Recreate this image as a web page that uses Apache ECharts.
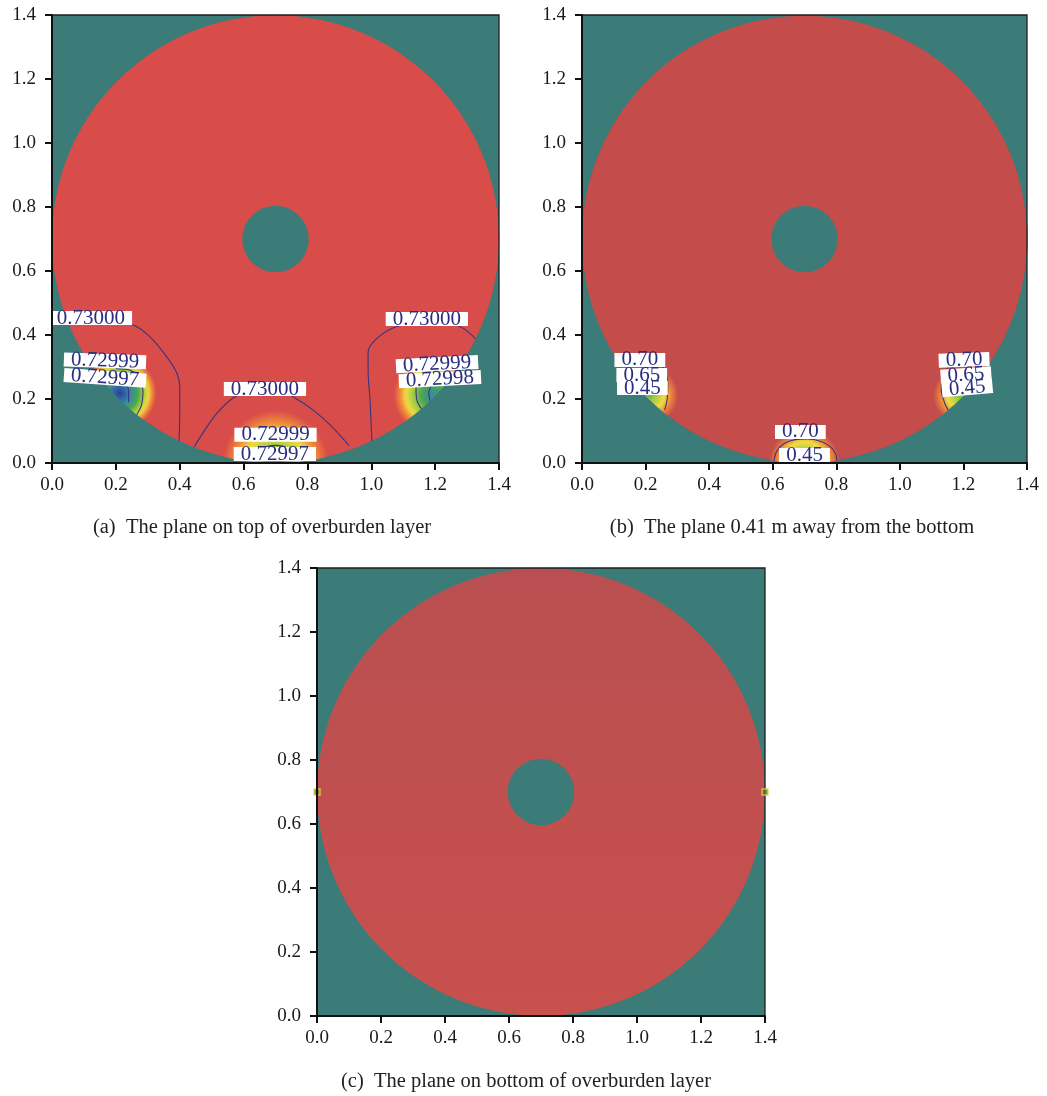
<!DOCTYPE html>
<html>
<head>
<meta charset="utf-8">
<script src="https://cdn.jsdelivr.net/npm/echarts@6/dist/echarts.min.js"></script>
<style>
  html, body { margin: 0; padding: 0; background: #ffffff; }
  #chart { width: 1047px; height: 1096px; }
</style>
</head>
<body>
<div id="chart"></div>
<script>
// ---------------- data ----------------
// Axis ticks shared by the three planes (m)
const tickValues = [0.0, 0.2, 0.4, 0.6, 0.8, 1.0, 1.2, 1.4];

const panelTitles = [
  '(a)  The plane on top of overburden layer',
  '(b)  The plane 0.41 m away from the bottom',
  '(c)  The plane on bottom of overburden layer'
];

// Model domain [cx, cy, r] (m)
const outerDisk = [[0.7, 0.7, 0.7]];
const innerHole = [[0.7, 0.7, 0.104]];

// Disturbed zones round the wells: [cx, cy, radius, depth on the colour ramp 0..1]
const wellZonesA = [[0.212, 0.218, 0.115, 1.0], [1.19, 0.212, 0.12, 0.7], [0.7, 0.0, 0.165, 0.52]];
const wellZonesB = [[0.212, 0.212, 0.09, 0.45], [1.19, 0.21, 0.085, 0.42], [0.7, 0.0, 0.11, 0.55]];
// Wells on the bottom plane [x, y]
const wellsC = [[0.0, 0.7], [1.4, 0.7]];

// Contour lines, plane (a)
const contourA_left = [[0.05, 0.45], [0.16, 0.447], [0.254, 0.431], [0.307, 0.394], [0.36, 0.331], [0.391, 0.281], [0.40, 0.238], [0.40, 0.15], [0.398, 0.068]];
const contourA_mid = [[0.445, 0.05], [0.485, 0.113], [0.517, 0.156], [0.567, 0.203], [0.62, 0.226], [0.70, 0.232], [0.761, 0.203], [0.817, 0.166], [0.871, 0.119], [0.93, 0.055]];
const contourA_right = [[1.33, 0.385], [1.29, 0.42], [1.24, 0.44], [1.17, 0.447], [1.068, 0.422], [1.012, 0.384], [0.99, 0.347], [0.99, 0.29], [0.996, 0.197], [1.002, 0.068]];
const contourA_leftIn1 = [[0.20, 0.295], [0.245, 0.29], [0.275, 0.262], [0.285, 0.22], [0.28, 0.18], [0.265, 0.15]];
const contourA_leftIn2 = [[0.195, 0.265], [0.225, 0.255], [0.24, 0.225], [0.24, 0.19]];
const contourA_midIn = [[0.64, 0.02], [0.66, 0.045], [0.70, 0.055], [0.74, 0.045], [0.76, 0.02]];
const contourA_rightIn1 = [[1.15, 0.27], [1.14, 0.23], [1.145, 0.19], [1.165, 0.16]];
const contourA_rightIn2 = [[1.19, 0.245], [1.18, 0.22], [1.185, 0.19]];

// Contour lines, plane (b)
const contourB_left = [[0.22, 0.33], [0.255, 0.30], [0.27, 0.25], [0.268, 0.2], [0.26, 0.165]];
const contourB_right = [[1.17, 0.32], [1.14, 0.28], [1.13, 0.23], [1.14, 0.19], [1.155, 0.16]];
const contourB_mid = [[0.603, 0.0], [0.612, 0.035], [0.635, 0.06], [0.67, 0.073], [0.71, 0.075], [0.75, 0.068], [0.78, 0.052], [0.797, 0.03], [0.803, 0.0]];

// Contour labels [x, y, level]
const labelsA = [
  [0.122, 0.453, 0.73000], [0.166, 0.319, 0.72999], [0.166, 0.266, 0.72997],
  [0.667, 0.231, 0.73000], [0.700, 0.088, 0.72999], [0.698, 0.028, 0.72997],
  [1.174, 0.450, 0.73000], [1.206, 0.309, 0.72999], [1.215, 0.262, 0.72998]
];
const labelsB = [
  [0.182, 0.322, 0.70], [0.188, 0.275, 0.65], [0.190, 0.234, 0.45],
  [1.202, 0.322, 0.70], [1.208, 0.275, 0.65], [1.212, 0.234, 0.45],
  [0.687, 0.097, 0.70], [0.700, 0.025, 0.45]
];

// ---------------- styles ----------------
const TEAL = '#3b7c79';
const RED_A = '#d84c4a';
const RED_B = '#c44c4b';
const LINE = '#38357e';
const SERIF = '"Liberation Serif", "DejaVu Serif", serif';
const tiltA = [0, -2, -4, 0, 0, 0, 0, 3, 3];
const tiltB = [0, 0, 0, 2, 4, 5, 0, 0];

const grids = [
  { left: 52, top: 15, width: 447, height: 448 },
  { left: 582, top: 15, width: 445, height: 448 },
  { left: 317, top: 568, width: 448, height: 448 }
];

// rainbow ramp: position 0 = undisturbed (panel red), 1 = deepest drawdown (blue)
function rampStops(red) {
  return [[0, red], [0.12, '#f08a3a'], [0.22, '#f0dc40'], [0.35, '#a6cc44'],
          [0.5, '#4aa84e'], [0.7, '#3a88a8'], [1, '#2c3c9c']];
}
function rampColour(v, stops) {
  for (let k = 1; k < stops.length; k++) {
    if (v <= stops[k][0]) {
      const f = (v - stops[k - 1][0]) / (stops[k][0] - stops[k - 1][0]);
      return echarts.color.lerp(Math.max(0, Math.min(1, f)), [stops[k - 1][1], stops[k][1]]);
    }
  }
  return stops[stops.length - 1][1];
}

function diskItem(fill) {
  return function (params, api) {
    const c = api.coord([api.value(0), api.value(1)]);
    const s = api.size([api.value(2), api.value(2)]);
    return { type: 'circle', shape: { cx: c[0], cy: c[1], r: (s[0] + s[1]) / 2 }, style: { fill: fill } };
  };
}

function zoneItem(red) {
  const stopsRamp = rampStops(red);
  return function (params, api) {
    const c = api.coord([api.value(0), api.value(1)]);
    const s = api.size([api.value(2), api.value(2)]);
    const depth = api.value(3);
    const stops = [];
    for (let k = 0; k <= 20; k++) {
      const t = k / 20;
      stops.push({ offset: t, color: rampColour(depth * (1 - t), stopsRamp) });
    }
    return {
      type: 'circle',
      shape: { cx: c[0], cy: c[1], r: (s[0] + s[1]) / 2 },
      style: { fill: new echarts.graphic.RadialGradient(0.5, 0.5, 0.5, stops) }
    };
  };
}

function maskItem(params, api) {
  const cs = params.coordSys;
  const c = api.coord([api.value(0), api.value(1)]);
  const s = api.size([api.value(2), api.value(2)]);
  const rx = s[0], ry = s[1];
  const d = 'M' + cs.x + ' ' + cs.y + 'H' + (cs.x + cs.width) + 'V' + (cs.y + cs.height) + 'H' + cs.x + 'Z' +
    'M' + (c[0] + rx) + ' ' + c[1] + 'A' + rx + ' ' + ry + ' 0 1 0 ' + (c[0] - rx) + ' ' + c[1] +
    'A' + rx + ' ' + ry + ' 0 1 0 ' + (c[0] + rx) + ' ' + c[1] + 'Z';
  return {
    type: 'group',
    children: [
      { type: 'path', shape: { pathData: d }, style: { fill: TEAL } },
      { type: 'rect', shape: { x: cs.x, y: cs.y, width: cs.width, height: cs.height },
        style: { fill: 'none', stroke: '#1e1e1e', lineWidth: 1.3 } }
    ]
  };
}

function labelItem(digits, tilts) {
  return function (params, api) {
    const p = api.coord([api.value(0), api.value(1)]);
    return {
      type: 'text', x: p[0], y: p[1],
      rotation: (tilts[params.dataIndex] || 0) * Math.PI / 180,
      style: {
        text: api.value(2).toFixed(digits), fill: '#2a2d80',
        fontSize: 21, fontFamily: SERIF,
        align: 'center', verticalAlign: 'middle',
        backgroundColor: '#ffffff', padding: [0, 7], lineHeight: 14
      }
    };
  };
}

function custom(i, data, renderItem, z, clip) {
  return { type: 'custom', xAxisIndex: i, yAxisIndex: i, data: data, renderItem: renderItem,
    encode: { x: 0, y: 1 }, z: z, silent: true, clip: !!clip };
}

function contour(i, pts) {
  return { type: 'line', xAxisIndex: i, yAxisIndex: i, data: pts, showSymbol: false, symbol: 'none',
    smooth: 0.3, lineStyle: { color: LINE, width: 1.1 }, z: 3, silent: true };
}

function axis(i) {
  return {
    gridIndex: i, type: 'value', min: 0, max: 1.4, interval: 0.2, z: 10,
    axisLine: { show: true, onZero: false, lineStyle: { color: '#111', width: 2 } },
    axisTick: { show: true, length: 7, customValues: tickValues, lineStyle: { color: '#111', width: 2 } },
    axisLabel: { customValues: tickValues, color: '#1a1a1a', fontSize: 19, fontFamily: SERIF,
      formatter: function (v) { return v.toFixed(1); } },
    splitLine: { show: false }
  };
}

const xAxes = [0, 1, 2].map(function (i) { const a = axis(i); a.axisLabel.margin = 13; return a; });
const yAxes = [0, 1, 2].map(function (i) { const a = axis(i); a.axisLabel.margin = 16; return a; });

const fillC = new echarts.graphic.LinearGradient(0, 0, 0, 1, [
  { offset: 0, color: '#b94f51' }, { offset: 1, color: '#c8504d' }
]);

const series = [
  // plane (a)
  custom(0, outerDisk, diskItem(RED_A), 1),
  custom(0, wellZonesA, zoneItem(RED_A), 2, true),
  contour(0, contourA_left), contour(0, contourA_mid), contour(0, contourA_right),
  contour(0, contourA_leftIn1), contour(0, contourA_leftIn2), contour(0, contourA_midIn),
  contour(0, contourA_rightIn1), contour(0, contourA_rightIn2),
  custom(0, outerDisk, maskItem, 4),
  custom(0, innerHole, diskItem(TEAL), 5),
  custom(0, labelsA, labelItem(5, tiltA), 7),
  // plane (b)
  custom(1, outerDisk, diskItem(RED_B), 1),
  custom(1, wellZonesB, zoneItem(RED_B), 2, true),
  contour(1, contourB_left), contour(1, contourB_right), contour(1, contourB_mid),
  custom(1, outerDisk, maskItem, 4),
  custom(1, innerHole, diskItem(TEAL), 5),
  custom(1, labelsB, labelItem(2, tiltB), 7),
  // plane (c)
  custom(2, outerDisk, diskItem(fillC), 1),
  custom(2, outerDisk, maskItem, 4),
  custom(2, innerHole, diskItem(TEAL), 5),
  { type: 'scatter', xAxisIndex: 2, yAxisIndex: 2, data: wellsC, symbol: 'rect', symbolSize: 6,
    itemStyle: { color: '#5f7a2c', borderColor: '#e4d64a', borderWidth: 1.5 }, z: 8, silent: true }
];

const titleSpots = [[262, 528], [792, 528], [526, 1082]];

const chart = echarts.init(document.getElementById('chart'), null, { renderer: 'canvas' });
chart.setOption({
  animation: false,
  backgroundColor: '#ffffff',
  grid: grids.map(function (g) {
    return Object.assign({ show: true, backgroundColor: TEAL, borderWidth: 0 }, g);
  }),
  xAxis: xAxes,
  yAxis: yAxes,
  series: series,
  graphic: panelTitles.map(function (t, i) {
    return {
      type: 'text', x: titleSpots[i][0], y: titleSpots[i][1],
      style: { text: t, fill: '#222222', fontSize: 20.5, fontFamily: SERIF,
        align: 'center', verticalAlign: 'middle', textAlign: 'center', textVerticalAlign: 'middle' }
    };
  })
});
</script>
</body>
</html>
